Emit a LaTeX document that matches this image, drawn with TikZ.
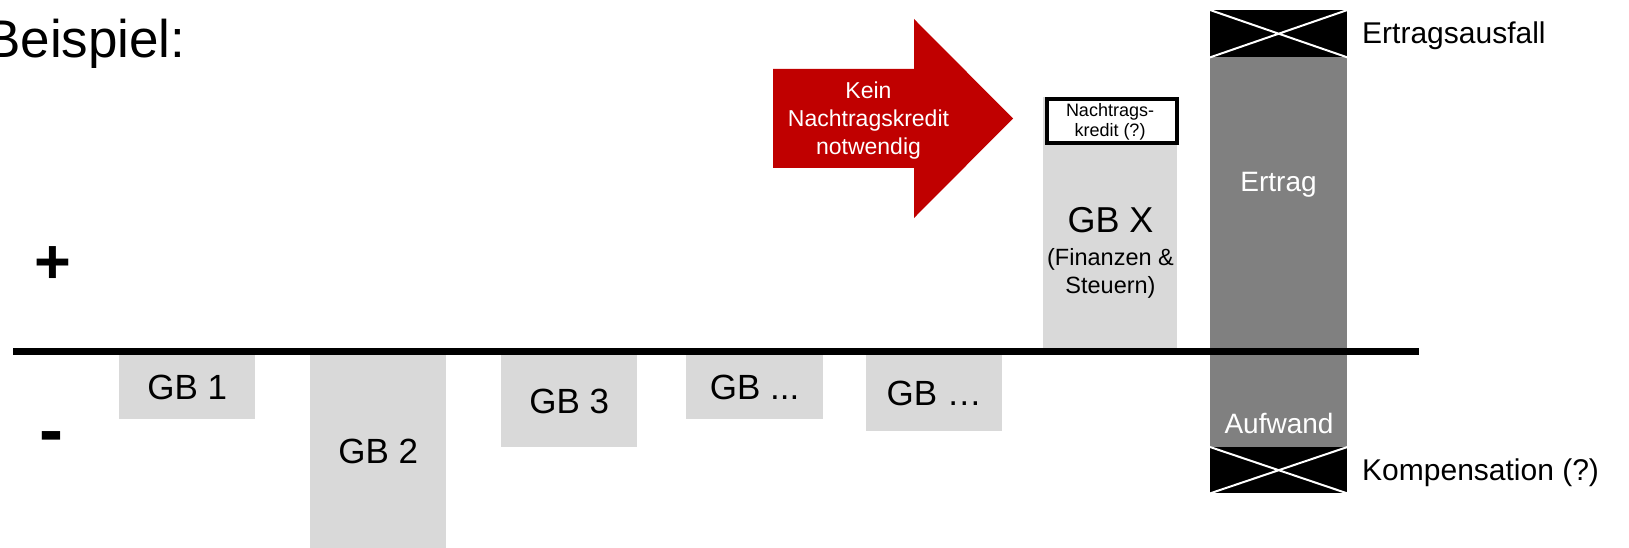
\documentclass[tikz,border=0pt]{standalone}
\usepackage{fontspec}
\setmainfont{Liberation Sans}
\definecolor{lgray}{HTML}{D9D9D9}
\definecolor{dgray}{HTML}{808080}
\definecolor{kred}{HTML}{C00000}
\newcommand{\myfs}[2]{\fontsize{#1pt}{#2pt}\selectfont}
\begin{document}
\begin{tikzpicture}[x=1pt,y=-1pt,
  gbbox/.style={fill=lgray,draw=none,inner sep=0pt,anchor=north west,font=\myfs{35}{40}},
  blackx/.style={fill=black,draw=none,inner sep=0pt,anchor=north west,minimum width=137pt,minimum height=47pt},
  xline/.style={white,line width=2pt},
  lbl/.style={anchor=base,inner sep=0pt},
  sidelbl/.style={anchor=base west,inner sep=0pt,font=\myfs{30}{34}}]
\useasboundingbox (0,0) rectangle (1629,548);
% title
\node[anchor=base west,inner sep=0pt,font=\myfs{53}{60}] (title) at (-15,58) {Beispiel:};
% signs
\node[anchor=center,inner sep=0pt,font=\myfs{63}{70}\bfseries] (plus) at (53,265) {+};
\node[anchor=center,inner sep=0pt,font=\myfs{72}{80}\bfseries] (minus) at (51,443) {-};
% negative boxes
\node[gbbox,minimum width=136pt,minimum height=64pt] (gb1) at (119,355) {GB 1};
\node[gbbox,minimum width=136pt,minimum height=193pt] (gb2) at (310,355) {GB 2};
\node[gbbox,minimum width=136pt,minimum height=92pt] (gb3) at (501,355) {GB 3};
\node[gbbox,minimum width=137pt,minimum height=64pt] (gb4) at (686,355) {GB ...};
\node[gbbox,minimum width=136pt,minimum height=76pt] (gb5) at (866,355) {GB …};
% GB X
\node[gbbox,minimum width=134pt,minimum height=254pt] (gbx) at (1043,97) {};
\node[lbl,font=\myfs{36}{40}] (gbxt) at (1110.5,232) {GB X};
\node[lbl,font=\myfs{23.5}{28}] (gbxf) at (1110.5,265) {(Finanzen \&};
\node[lbl,font=\myfs{23.5}{28}] (gbxs) at (1110.5,293) {Steuern)};
% Nachtragskredit box
\node[draw=black,line width=4pt,fill=white,inner sep=0pt,anchor=north west,minimum width=130pt,minimum height=44pt] (nk) at (1045,97) {};
\node[lbl,font=\myfs{18}{20}] (nk1) at (1110,117) {Nachtrags-};
\node[lbl,font=\myfs{18}{20}] (nk2) at (1110,137) {kredit (?)};
% red arrow
\fill[kred] (773,69) -- (914,69) -- (914,19) -- (1013,118.5) -- (914,218) -- (914,168) -- (773,168) -- cycle;
\node[lbl,text=white,font=\myfs{23}{28}] (a1) at (868.5,99) {Kein};
\node[lbl,text=white,font=\myfs{23}{28}] (a2) at (868.5,127) {Nachtragskredit};
\node[lbl,text=white,font=\myfs{23}{28}] (a3) at (868.5,155) {notwendig};
% dark column
\node[fill=dgray,draw=none,inner sep=0pt,anchor=north west,minimum width=137pt,minimum height=390pt] (col) at (1210,57) {};
\node[lbl,text=white,font=\myfs{28}{32}] (ertrag) at (1278.5,192) {Ertrag};
\node[lbl,text=white,font=\myfs{28}{32}] (aufwand) at (1279,433) {Aufwand};
% crossed boxes
\node[blackx] (ausfall) at (1210,10) {};
\draw[xline] (ausfall.north west) -- (ausfall.south east) (ausfall.south west) -- (ausfall.north east);
\node[blackx,minimum height=46pt] (komp) at (1210,447) {};
\draw[xline] (komp.north west) -- (komp.south east) (komp.south west) -- (komp.north east);
\node[sidelbl] (ausfallt) at (1362,44) {Ertragsausfall};
\node[sidelbl] (kompt) at (1362,480) {Kompensation (?)};
% axis
\coordinate (axL) at (13,351.5);
\coordinate (axR) at (1419,351.5);
\draw[line width=7pt] (axL) -- (axR);
\end{tikzpicture}
\end{document}
